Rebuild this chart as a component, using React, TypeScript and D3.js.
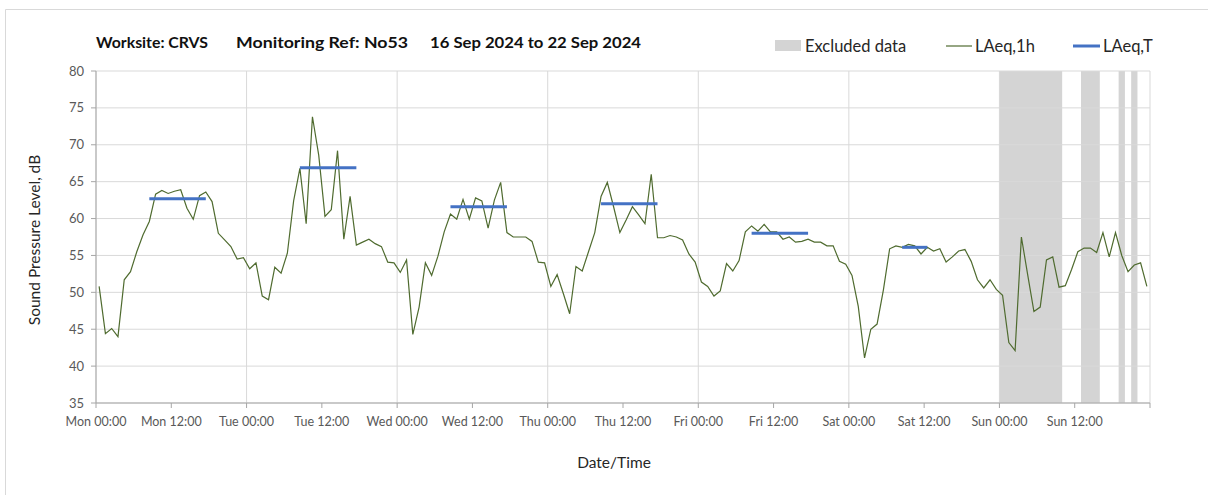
import React from "react";
import * as d3 from "d3";

const W = 1208;
const H = 495;

// Hourly LAeq,1h values starting Mon 16 Sep 2024 00:00 (one per hour)
const laeq1h: number[] = [
  50.8, 44.4, 45.1, 44.0, 51.7, 52.8, 55.5, 57.8, 59.6, 63.3, 63.8, 63.4, 63.7, 63.9, 61.4, 59.9, 63.1, 63.6, 62.3, 58.0, 57.1, 56.2, 54.5, 54.7,
  53.2, 54.0, 49.5, 49.0, 53.4, 52.6, 55.3, 62.4, 66.8, 59.3, 73.8, 68.6, 60.3, 61.2, 69.2, 57.2, 63.0, 56.4, 56.8, 57.2, 56.6, 56.2, 54.1, 54.0,
  52.7, 54.4, 44.3, 48.0, 54.0, 52.3, 54.9, 58.2, 60.6, 59.9, 62.6, 59.9, 62.8, 62.4, 58.7, 62.5, 64.9, 58.1, 57.5, 57.5, 57.5, 56.9, 54.1, 54.0,
  50.8, 52.4, 49.8, 47.1, 53.5, 52.9, 55.5, 58.1, 63.0, 64.9, 61.6, 58.1, 59.8, 61.6, 60.5, 59.3, 66.0, 57.4, 57.4, 57.7, 57.5, 57.1, 55.2, 54.1,
  51.4, 50.8, 49.5, 50.2, 53.9, 52.9, 54.3, 58.2, 59.0, 58.3, 59.2, 58.2, 58.2, 57.2, 57.5, 56.8, 56.9, 57.2, 56.8, 56.8, 56.3, 56.3, 54.2, 53.8,
  52.3, 48.1, 41.1, 45.0, 45.7, 50.3, 55.9, 56.3, 56.1, 56.5, 56.3, 55.2, 56.1, 55.6, 55.9, 54.1, 54.8, 55.6, 55.8, 54.2, 51.7, 50.6, 51.7, 50.4,
  49.6, 43.2, 42.1, 57.5, 52.4, 47.4, 48.0, 54.4, 54.8, 50.7, 50.9, 53.1, 55.5, 56.0, 56.0, 55.4, 58.1, 54.8, 58.1, 55.0, 52.8, 53.7, 54.0, 50.8,
];

// LAeq,T periods: first and last hourly index, level
const periodStart: number[] = [8, 32, 56, 80, 104, 128];
const periodEnd: number[] = [17, 41, 65, 89, 113, 132];
const periodLevel: number[] = [62.7, 66.9, 61.6, 62.0, 58.0, 56.1];

// Excluded data (hours from Mon 00:00)
const excludedStart: number[] = [144, 157, 163, 165];
const excludedEnd: number[] = [154, 160, 164, 166];

const days: string[] = ["Mon", "Tue", "Wed", "Thu", "Fri", "Sat", "Sun"];
const halfDay: string[] = ["00:00", "12:00"];
const yTicks: number[] = [35, 40, 45, 50, 55, 60, 65, 70, 75, 80];

const FONT = "Lato, 'Open Sans', sans-serif";

export default function App() {
  const x = d3.scaleLinear().domain([0, 168]).range([96, 1150]);
  const y = d3.scaleLinear().domain([35, 80]).range([403, 71]);

  const pts = laeq1h.map((v, i) => [x(i + 0.5), y(v)] as [number, number]);
  const line = d3.line()(pts) || "";

  const xTickHours = d3.range(0, 169, 12);
  const dayLines = d3.range(0, 169, 24);

  return (
    <svg width={W} height={H} style={{ position: "absolute", left: 0, top: 0 }} fontFamily={FONT}>
      <rect x={0} y={0} width={W} height={H} fill="#fff" />
      <line x1={5.5} x2={W} y1={9.5} y2={9.5} stroke="#d9d9d9" />
      <line x1={5.5} x2={5.5} y1={9.5} y2={H} stroke="#d9d9d9" />

      {/* excluded bands */}
      {excludedStart.map((s, i) => (
        <rect key={"ex" + i} x={x(s)} y={y(80)} width={x(excludedEnd[i]) - x(s)} height={y(35) - y(80)} fill="#d4d4d4" />
      ))}

      {/* horizontal grid */}
      {yTicks.map((t) => (
        <line key={"hg" + t} x1={x(0)} x2={x(168)} y1={y(t)} y2={y(t)} stroke="#d9d9d9" strokeWidth={1} />
      ))}
      {/* vertical grid */}
      {dayLines.map((h) => (
        <line key={"vg" + h} x1={x(h)} x2={x(h)} y1={y(80)} y2={y(35)} stroke="#d9d9d9" strokeWidth={1} />
      ))}

      {/* axes */}
      <line x1={x(0)} x2={x(0)} y1={y(80)} y2={y(35)} stroke="#a6a6a6" />
      <line x1={x(0)} x2={x(168)} y1={y(35)} y2={y(35)} stroke="#a6a6a6" />
      {yTicks.map((t) => (
        <g key={"yt" + t}>
          <line x1={x(0) - 5} x2={x(0)} y1={y(t)} y2={y(t)} stroke="#a6a6a6" />
          <text x={x(0) - 12} y={y(t) + 4.5} textAnchor="end" fontSize={13} fill="#595959">
            {t}
          </text>
        </g>
      ))}
      {xTickHours.map((h) => (
        <g key={"xt" + h}>
          <line x1={x(h)} x2={x(h)} y1={y(35)} y2={y(35) + 5} stroke="#a6a6a6" />
          {h < 168 && (
            <text x={x(h)} y={426} textAnchor="middle" fontSize={12.5} fill="#595959">
              {days[Math.floor(h / 24)] + " " + halfDay[(h % 24) / 12]}
            </text>
          )}
        </g>
      ))}

      {/* LAeq,1h */}
      <path d={line} fill="none" stroke="#4f6b2f" strokeWidth={1.2} />

      {/* LAeq,T */}
      {periodStart.map((s, i) => (
        <line
          key={"p" + i}
          x1={x(s + 0.5)}
          x2={x(periodEnd[i] + 0.5)}
          y1={y(periodLevel[i])}
          y2={y(periodLevel[i])}
          stroke="#4472c4"
          strokeWidth={3}
        />
      ))}

      {/* title */}
      <g fontWeight="bold" fontSize={16} fill="#111">
        <text x={96} y={48} textLength={112} lengthAdjust="spacingAndGlyphs">Worksite: CRVS</text>
        <text x={236} y={48} textLength={172} lengthAdjust="spacingAndGlyphs">Monitoring Ref: No53</text>
        <text x={430} y={48} textLength={211} lengthAdjust="spacingAndGlyphs">16 Sep 2024 to 22 Sep 2024</text>
      </g>

      {/* legend */}
      <rect x={775} y={40} width={26} height={11} fill="#d4d4d4" />
      <text x={805} y={51.5} fontSize={16.5} fill="#262626">Excluded data</text>
      <line x1={946} x2={972} y1={46} y2={46} stroke="#4f6b2f" strokeWidth={1.2} />
      <text x={975} y={51.5} fontSize={16.5} fill="#262626">LAeq,1h</text>
      <line x1={1073} x2={1100} y1={46} y2={46} stroke="#4472c4" strokeWidth={3} />
      <text x={1103} y={51.5} fontSize={16.5} fill="#262626">LAeq,T</text>

      {/* axis titles */}
      <text transform={`translate(40,240) rotate(-90)`} textAnchor="middle" fontSize={15.5} fill="#262626">
        Sound Pressure Level, dB
      </text>
      <text x={614} y={468} textAnchor="middle" fontSize={15.5} fill="#262626">
        Date/Time
      </text>
    </svg>
  );
}
